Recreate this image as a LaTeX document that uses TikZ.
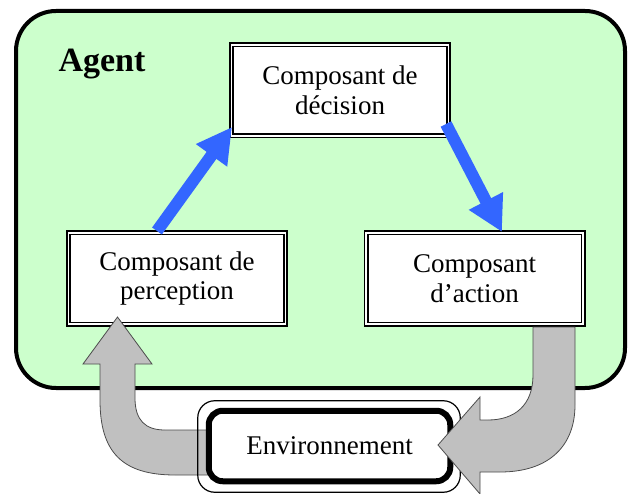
\documentclass[tikz,border=0pt]{standalone}
\usepackage{fontspec}
\setmainfont{Liberation Serif}
\usetikzlibrary{arrows.meta}

\definecolor{agentgreen}{RGB}{204,255,204}
\definecolor{flowblue}{RGB}{51,102,255}
\definecolor{flowgray}{RGB}{192,192,192}

\begin{document}
\begin{tikzpicture}[x=1pt, y=-1pt,
  composant/.style = {draw, fill=white, line width=1.6pt, double=white, double distance=1.8pt,
                      minimum width=217pt, minimum height=91pt, align=center, inner sep=0pt,
                      font=\fontsize{27}{29.5}\selectfont},
  flux/.style = {flowblue, line width=12pt, -{Triangle[width=36pt, length=35pt]}},
  grosse/.style = {fill=flowgray, draw=black!70, line width=0.8pt, line join=miter}]
\useasboundingbox (0,0) rectangle (629,494);

% agent frame
\draw[fill=agentgreen, line width=4pt, rounded corners=40pt] (16,11) rectangle (625,388);
\node[anchor=base west, font=\fontsize{34}{40}\selectfont\bfseries] (agent) at (55,72) {Agent};

% the three components
\node[composant] (decision) at (340,90.5) {Composant de\\décision};
\node[composant] (perception) at (177,278.5) {Composant de\\perception};
\node[composant] (action) at (474.5,278.5) {Composant\\d'action};

% internal flow
\coordinate (p1) at (157,231);
\coordinate (d1) at (232,127);
\coordinate (d2) at (446,124);
\coordinate (a1) at (502,232);
\draw[flux] (p1) -- (d1);
\draw[flux] (d2) -- (a1);

% environment to perception (under the box)
\draw[grosse] (215,430) -- (165,430) .. controls (145,430) and (135,420) .. (135,398)
  -- (135,364) -- (152,364) -- (117.5,317) -- (83,364) -- (100,364) -- (100,400)
  .. controls (100,452) and (122,475) .. (175,475) -- (215,475) -- cycle;

% environment
\node[draw, fill=white, line width=6pt, rounded corners=14pt, minimum width=241.5pt,
      minimum height=70.5pt, inner sep=0pt, font=\fontsize{27}{29.5}\selectfont] (env) at (329.5,446) {Environnement};
\draw[line width=1.2pt, rounded corners=17pt] ([shift={(-8,-7)}]env.north west) rectangle ([shift={(7,8)}]env.south east);

% action to environment
\draw[grosse] (533,327) -- (533,375) .. controls (533,405) and (515,420) .. (488,420)
  -- (480,420) -- (480,397) -- (438,445) -- (480,494) -- (480,472) -- (500,472)
  .. controls (550,472) and (575,445) .. (575,405) -- (575,327) -- cycle;
\end{tikzpicture}
\end{document}
